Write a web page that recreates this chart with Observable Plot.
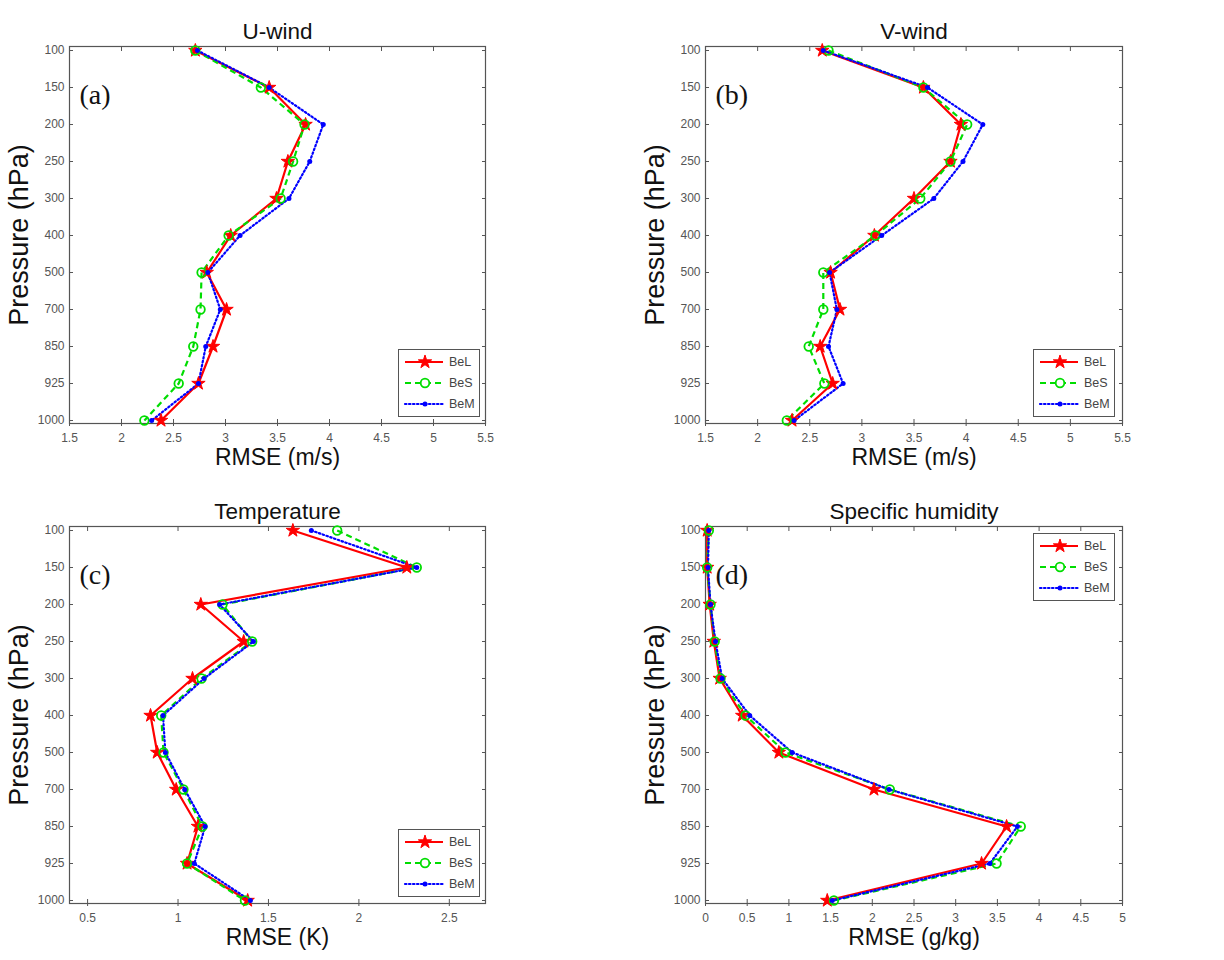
<!DOCTYPE html>
<html><head><meta charset="utf-8">
<script src="https://cdn.jsdelivr.net/npm/d3@7"></script>
<script src="https://cdn.jsdelivr.net/npm/@observablehq/plot@0.6"></script>
<style>
body{margin:0;background:#fff;font-family:"Liberation Sans",Arial,sans-serif;}
#wrap{position:relative;width:1224px;height:960px;overflow:hidden;}
.panel{position:absolute;width:612px;height:480px;}
.legend{position:absolute;border:1px solid #555;background:#fff;box-sizing:border-box;}
</style>
</head><body>
<div id="wrap"></div>
<script>
// ---- data ----
const levels = ["100","150","200","250","300","400","500","700","850","925","1000"];
const seriesNames = ["BeL","BeS","BeM"];

const uBeL = [2.71,3.42,3.77,3.60,3.49,3.05,2.82,3.01,2.88,2.74,2.38];
const uBeS = [2.71,3.34,3.76,3.65,3.53,3.03,2.77,2.76,2.69,2.55,2.22];
const uBeM = [2.73,3.42,3.94,3.81,3.61,3.14,2.83,2.95,2.81,2.74,2.29];

const vBeL = [2.62,3.59,3.95,3.85,3.50,3.12,2.70,2.79,2.60,2.72,2.33];
const vBeS = [2.68,3.59,4.01,3.85,3.56,3.13,2.63,2.63,2.49,2.64,2.28];
const vBeM = [2.63,3.63,4.16,3.97,3.69,3.19,2.69,2.76,2.68,2.82,2.35];

const tBeL = [1.635,2.265,1.126,1.363,1.08,0.848,0.885,0.99,1.11,1.05,1.385];
const tBeS = [1.88,2.32,1.246,1.41,1.13,0.907,0.92,1.03,1.135,1.05,1.37];
const tBeM = [1.737,2.32,1.23,1.417,1.144,0.917,0.93,1.037,1.15,1.09,1.40];

const qBeL = [0.02,0.02,0.05,0.10,0.17,0.44,0.88,2.02,3.61,3.31,1.46];
const qBeS = [0.04,0.02,0.06,0.11,0.18,0.48,0.96,2.21,3.78,3.49,1.54];
const qBeM = [0.04,0.03,0.06,0.12,0.20,0.53,1.04,2.20,3.74,3.41,1.52];

const windTicks = [1.5,2,2.5,3,3.5,4,4.5,5,5.5];
const tempTicks = [0.5,1,1.5,2,2.5];
const humTicks = [0,0.5,1,1.5,2,2.5,3,3.5,4,4.5,5];

const titles = ["U-wind","V-wind","Temperature","Specific humidity"];
const xLabels = ["RMSE (m/s)","RMSE (m/s)","RMSE (K)","RMSE (g/kg)"];
const tags = ["(a)","(b)","(c)","(d)"];

// ---- styles ----
const styles = {
  BeL: {color:"#ff0000", dash:null},
  BeS: {color:"#00dd00", dash:"6,4"},
  BeM: {color:"#0000ff", dash:"1.5,2.5"}
};
const FONT = "Liberation Sans, Arial, sans-serif";
const AXC = "#555";

function buildPanel(cfg){
  const rows = [];
  cfg.values.forEach((vals, si) => vals.forEach((v, i) => rows.push({name: seriesNames[si], level: levels[i], v})));
  const by = n => rows.filter(d => d.name === n);
  const marks = [
    Plot.frame({stroke:AXC, strokeWidth:1.2}),
    Plot.axisX({anchor:"bottom", ticks: cfg.ticks, tickSize:-4, tickPadding:14, fontSize:12, color:AXC, label:null, tickFormat: d => String(d)}),
    Plot.axisX({anchor:"bottom", ticks: cfg.ticks, tickSize:3, tickFormat: () => "", label:null, color:AXC}),
    Plot.axisX({anchor:"top", ticks: cfg.ticks, tickSize:-4, tickFormat: () => "", label:null, color:AXC}),
    Plot.axisY({anchor:"left", tickSize:-4, tickPadding:9, fontSize:12, color:AXC, label:null}),
    Plot.axisY({anchor:"right", tickSize:-4, tickFormat: () => "", label:null, color:AXC})
  ];
  for (const n of seriesNames){
    const st = styles[n];
    marks.push(Plot.line(by(n), {x:"v", y:"level", stroke: st.color, strokeWidth:2.2, strokeDasharray: st.dash, strokeLinecap: n==="BeM" ? "round" : "butt"}));
  }
  marks.push(Plot.dot(by("BeL"), {x:"v", y:"level", symbol:"star", r:4.2, fill:"#ff0000", stroke:"#ff0000", strokeWidth:1}));
  marks.push(Plot.dot(by("BeS"), {x:"v", y:"level", symbol:"circle", r:4.3, fill:"none", stroke:"#00dd00", strokeWidth:1.8}));
  marks.push(Plot.dot(by("BeM"), {x:"v", y:"level", symbol:"circle", r:2.5, fill:"#0000ff", stroke:"none"}));
  marks.push(Plot.text([cfg.title], {frameAnchor:"top", dy:-23, fontSize:22.5, fill:"#111", fontFamily: FONT}));
  marks.push(Plot.text([cfg.xlabel], {frameAnchor:"bottom", dy:41, fontSize:23, fill:"#111", fontFamily: FONT}));
  marks.push(Plot.text(["Pressure (hPa)"], {frameAnchor:"left", dx:-50, rotate:-90, textAnchor:"middle", fontSize:27, fill:"#111", fontFamily: FONT}));
  marks.push(Plot.text([cfg.tag], {frameAnchor:"top-left", dx:10, dy:38, textAnchor:"start", fontSize:28, fill:"#111", fontFamily:"Liberation Serif, Times New Roman, serif"}));

  return Plot.plot({
    width:612, height:480,
    marginLeft: cfg.ml, marginRight: cfg.mr, marginTop:46, marginBottom:57,
    style:{fontFamily: FONT, background:"transparent", overflow:"visible"},
    x:{domain: cfg.domain},
    y:{type:"point", domain: levels, padding:0},
    marks
  });
}

function buildLegend(left, top){
  const div = document.createElement("div");
  div.className = "legend";
  div.style.left = left + "px"; div.style.top = top + "px";
  div.style.width = "82px"; div.style.height = "68px";
  const svg = d3.create("svg").attr("width", 80).attr("height", 66).style("display","block");
  seriesNames.forEach((n, i) => {
    const st = styles[n];
    const g = svg.append("g").attr("transform", `translate(0,${12 + i*21})`);
    g.append("line").attr("x1",6).attr("x2",44).attr("y1",0).attr("y2",0)
      .attr("stroke", st.color).attr("stroke-width",2.2)
      .attr("stroke-dasharray", st.dash).attr("stroke-linecap", n==="BeM"?"round":"butt");
    if (n === "BeL") g.append("path").attr("d", d3.symbol(d3.symbolStar, Math.PI*4.2*4.2)()).attr("transform","translate(26,0)").attr("fill",st.color).attr("stroke",st.color);
    if (n === "BeS") g.append("circle").attr("cx",26).attr("r",4.3).attr("fill","#fff").attr("stroke",st.color).attr("stroke-width",1.8);
    if (n === "BeM") g.append("circle").attr("cx",26).attr("r",2.5).attr("fill",st.color);
    g.append("text").attr("x",50).attr("y",0).attr("dy","0.35em").attr("font-size",12.5)
      .attr("font-family", FONT).attr("fill","#444").text(n);
  });
  div.appendChild(svg.node());
  return div;
}

const wrap = document.getElementById("wrap");
const cfgs = [
  {values:[uBeL,uBeS,uBeM], domain:[1.5,5.5], ticks:windTicks, ml:69, mr:127, left:0, top:0, leg:[398,349]},
  {values:[vBeL,vBeS,vBeM], domain:[1.5,5.5], ticks:windTicks, ml:93, mr:102, left:612, top:0, leg:[421,349]},
  {values:[tBeL,tBeS,tBeM], domain:[0.4,2.7], ticks:tempTicks, ml:69, mr:127, left:0, top:480, leg:[398,349]},
  {values:[qBeL,qBeS,qBeM], domain:[0,5], ticks:humTicks, ml:93, mr:102, left:612, top:480, leg:[421,53]}
];
cfgs.forEach((c, i) => {
  c.title = titles[i]; c.xlabel = xLabels[i]; c.tag = tags[i];
  const p = document.createElement("div");
  p.className = "panel";
  p.style.left = c.left + "px"; p.style.top = c.top + "px";
  p.appendChild(buildPanel(c));
  p.appendChild(buildLegend(c.leg[0], c.leg[1]));
  wrap.appendChild(p);
});
</script>
</body></html>
